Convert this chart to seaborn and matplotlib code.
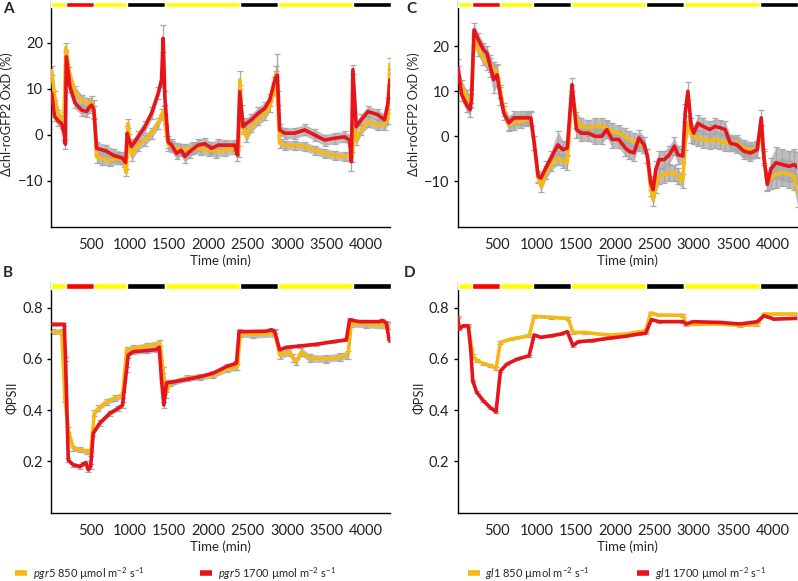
import numpy as np
import pandas as pd
import matplotlib
matplotlib.use("Agg")
import matplotlib.pyplot as plt
import matplotlib.transforms as mtransforms
from matplotlib.lines import Line2D
import seaborn as sns

# light regime bar along the top of every panel (start, end, colour)
light_start = [0, 180, 540, 960, 1440, 2400, 2880, 3840]
light_end = [180, 540, 960, 1440, 2400, 2880, 3840, 4320]
light_col = ['#ffff00', '#ff0000', '#ffff00', '#000000', '#ffff00', '#000000', '#ffff00', '#000000']

# ---- panel A: pgr5, chl-roGFP2 OxD ----
a_t_850 = [5, 40, 90, 130, 160, 185, 230, 300, 385, 465, 515, 545, 575, 650, 750, 850, 930, 955,
           975, 1000, 1020, 1105, 1190, 1275, 1360, 1402, 1430, 1460, 1490, 1530, 1600, 1700, 1800,
           1900, 2000, 2100, 2207, 2334, 2385, 2400, 2420, 2440, 2483, 2546, 2631, 2716, 2779, 2834,
           2856, 2880, 2906, 2970, 3097, 3224, 3351, 3478, 3605, 3732, 3800, 3830, 3850, 3881, 3945,
           4029, 4156, 4241, 4283, 4310]
a_v_850 = [14, 8.5, 4.5, 3.3, 4, 19, 13.5, 9.4, 7.6, 6.8, 7.2, 5, -4.7, -5.2, -5.5, -5, -5.6, -8.2,
           2.5, -2, -4.4, -2.2, -1.1, 0.4, 2.6, 4.4, 5.2, 1, -2.2, -2.5, -3, -3.2, -2.8,
           -3, -3.2, -3.6, -3.3, -3, -3.5, 12, 5, 1.5, -0.4, 1.8, 3.3, 4.4, 6.2, 10,
           13.4, 8, -1.8, -2.2, -2.3, -2.5, -3.3, -4, -4.4, -4.7, -4.6, -4.8, 1.5, -1.2, 1.1,
           2.9, 2.2, 2.2, 3.5, 15.5]
a_e_850 = [1, 1, 1, 1, 1, 1, 1.2, 1.2, 1.2, 1.2, 1.2, 1.2, 1.4, 1.4, 1.3, 1.3, 1.3, 0.8,
           1, 1.2, 1.2, 1.2, 1.2, 1.2, 1.2, 1.2, 1.2, 1.2, 1.2, 1.3, 1.3, 1.3, 1.3,
           1.3, 1.3, 1.3, 1.2, 1.2, 1.2, 2, 1.5, 1.2, 1.2, 1.2, 1.2, 1.2, 1.2, 1.2,
           1.5, 1.5, 1, 1, 1, 1, 1, 1, 1, 1, 1, 1, 1, 1, 1,
           1.2, 1.2, 1.2, 1.2, 1.2]

a_t_1700 = [5, 40, 90, 130, 165, 178, 190, 236, 300, 385, 448, 480, 512, 540, 576, 700, 800, 900, 945,
            965, 985, 1020, 1105, 1190, 1275, 1360, 1402, 1423, 1445, 1487, 1530, 1593, 1652, 1700,
            1760, 1868, 1953, 2038, 2122, 2207, 2334, 2368, 2398, 2440, 2483, 2546, 2631, 2716, 2779,
            2834, 2856, 2877, 2906, 2970, 3097, 3224, 3351, 3478, 3605, 3732, 3796, 3818, 3838, 3881,
            3945, 4029, 4156, 4241, 4283, 4310]
a_v_1700 = [9, 4, 3, 2.5, 0, -2, 17, 10.5, 7, 5.4, 5.1, 6, 6.5, 5.5, -2.9, -3.5, -4.5, -5, -6,
            0.4, -1, -2.5, -0.4, 1.8, 4.7, 9.1, 12, 21, 8, -1.5, -2.2, -4, -3.3, -4.7,
            -3.6, -2.2, -1.9, -2.9, -2.2, -2.2, -2.2, -4.4, 9.4, 1.8, 2.5, 3.3, 4.7, 5.8, 7.6,
            11.3, 12.5, 13, 1.1, 0.4, 0.4, 1.1, 0, -1.1, -0.7, -0.4, -1.1, -5.8, 14.2, 1.8,
            3.3, 5.1, 4.4, 3.3, 6.9, 12]
a_e_1700 = [1, 1, 1, 1, 1, 1, 1.5, 1.2, 1.2, 1.2, 1.2, 1.2, 1.2, 2, 1.4, 1.4, 1.4, 1.3, 1.3,
            1.5, 1.3, 1.3, 1.3, 1.3, 1.3, 1.3, 1.5, 3, 1.5, 1.3, 1.3, 1.3, 1.3, 1.3,
            1.3, 1.3, 1.3, 1.3, 1.3, 1.2, 1.2, 1.2, 1.5, 1.2, 1.2, 1.3, 1.3, 1.3, 1.3,
            1.3, 1.5, 4.5, 1.2, 1.2, 1.2, 1.2, 1.2, 1.2, 1.2, 1.2, 1.2, 2, 1, 1.2,
            1.2, 1.2, 1.2, 1.2, 1.2, 1.2]

# ---- panel B: pgr5, PhiPSII ----
b_t_850 = [20, 131, 173, 215, 279, 364, 449, 500, 546, 597, 703, 809, 906, 957, 1041, 1211, 1381,
           1423, 1453, 1508, 1720, 1889, 2059, 2229, 2368, 2406, 2567, 2843, 2906, 3033, 3076, 3118,
           3182, 3288, 3500, 3669, 3775, 3818, 4008, 4283, 4310]
b_v_850 = [0.706, 0.706, 0.44, 0.323, 0.251, 0.245, 0.24, 0.232, 0.388, 0.407, 0.433, 0.446, 0.459,
           0.635, 0.641, 0.65, 0.661, 0.557, 0.459, 0.505, 0.524, 0.53, 0.537, 0.56, 0.567, 0.70,
           0.696, 0.70, 0.615, 0.628, 0.602, 0.59, 0.628, 0.602, 0.6, 0.608, 0.615, 0.739, 0.736,
           0.73, 0.73]
b_e_850 = [0.01, 0.01, 0.01, 0.01, 0.01, 0.01, 0.01, 0.01, 0.012, 0.012, 0.012, 0.012, 0.012,
           0.012, 0.012, 0.012, 0.012, 0.012, 0.012, 0.012, 0.012, 0.012, 0.012, 0.012, 0.012,
           0.015, 0.015, 0.015, 0.015, 0.015, 0.015, 0.015, 0.015, 0.015, 0.015, 0.015, 0.015,
           0.015, 0.015, 0.015, 0.015]

b_t_1700 = [20, 67, 164, 180, 215, 279, 364, 406, 440, 470, 500, 533, 618, 745, 851, 906, 957, 978,
            1041, 1211, 1339, 1372, 1402, 1431, 1466, 1550, 1720, 1889, 2059, 2229, 2356, 2389,
            2440, 2737, 2800, 2843, 2906, 2991, 3161, 3373, 3584, 3754, 3796, 3923, 4178, 4212,
            4263, 4296, 4310]
b_v_1700 = [0.735, 0.735, 0.735, 0.6, 0.205, 0.186, 0.18, 0.19, 0.195, 0.167, 0.18, 0.31, 0.35,
            0.388, 0.407, 0.42, 0.557, 0.615, 0.628, 0.632, 0.636, 0.645, 0.518, 0.42, 0.506,
            0.51, 0.52, 0.53, 0.544, 0.57, 0.583, 0.706, 0.706, 0.708, 0.713, 0.706, 0.635,
            0.645, 0.65, 0.657, 0.667, 0.674, 0.752, 0.745, 0.745, 0.75, 0.74, 0.68, 0.67]
b_e_1700 = [0.005, 0.005, 0.005, 0.008, 0.008, 0.008, 0.008, 0.008, 0.008, 0.008, 0.008, 0.01,
            0.01, 0.01, 0.01, 0.01, 0.01, 0.01, 0.01, 0.01, 0.01, 0.01, 0.01, 0.01, 0.01, 0.008,
            0.008, 0.008, 0.008, 0.008, 0.008, 0.006, 0.006, 0.006, 0.006, 0.006, 0.006, 0.006,
            0.006, 0.006, 0.006, 0.006, 0.006, 0.006, 0.006, 0.006, 0.006, 0.006, 0.006]

# ---- panel C: gl1, chl-roGFP2 OxD ----
c_t = [5, 49, 113, 156, 175, 207, 263, 327, 371, 413, 456, 500, 543, 585, 650, 714, 800, 887, 929,
       972, 1023, 1058, 1122, 1187, 1273, 1338, 1393, 1453, 1509, 1573, 1660, 1745, 1831, 1896,
       1960, 2046, 2131, 2175, 2240, 2304, 2369, 2411, 2454, 2484, 2518, 2562, 2626, 2691, 2755,
       2798, 2862, 2892, 2926, 2969, 3000, 3055, 3120, 3206, 3270, 3335, 3400, 3464, 3550, 3636,
       3722, 3807, 3859, 3893, 3936, 3979, 4044, 4129, 4216, 4280, 4322]
c_v_850 = [14.1, 11.1, 8.9, 7.8, 9, 21.5, 19.3, 17.4, 16.3, 15.9, 15, 14.4, 10, 6, 2.6, 3, 3.3, 3.9,
           3.9, -1.5, -9.3, -11.1, -8.1, -6.3, -4.8, -5.5, -5.9, 10, 3.7, 2.2, 1.9, 2.2, 2.2, 1.9,
           1.1, 0.7, 0, -0.7, -1.1, -1.5, -1.9, -4.4, -11.9, -14.1, -11.1, -8.9, -8.5, -8.1, -8.1,
           -8.9, -10, -1.5, 3, 0.4, 0, -0.4, -0.7, -1.1, -0.7, -1.1, -1.5, -1.5, -1.5, -2.6,
           -3, -2.8, 1.1, -4.4, -10.4, -9.3, -8.5, -8.1, -8.5, -8.9, -12.6]
c_e_850 = [1.5, 1.5, 1.5, 1.5, 1.5, 1.5, 1.5, 1.5, 1.5, 1.5, 1.5, 1.5, 1.5, 1.5, 1.5, 1.5, 1.5, 1.5,
           1.5, 1.5, 1.2, 1.2, 1.5, 1.5, 1.5, 1.5, 1.5, 1.5, 1.8, 1.8, 1.8, 1.8, 1.8, 1.8,
           1.8, 1.8, 1.8, 1.8, 1.8, 1.8, 1.8, 1.5, 1.5, 1.5, 1.5, 1.8, 1.8, 1.8, 1.8,
           1.8, 1.5, 1.5, 1.5, 1.8, 1.8, 1.8, 1.8, 1.8, 1.8, 1.8, 1.8, 1.8, 1.8, 1.8,
           1.8, 1.8, 1.5, 1.5, 1.5, 2.5, 3, 3, 3, 3, 3.2]
c_v_1700 = [15.2, 9.3, 7, 5.9, 8, 23.7, 21.5, 19.3, 18.5, 15.6, 12.6, 13.7, 8.9, 5.2, 3, 4.1, 4.1,
            4.1, 4.1, -1.5, -8.9, -9.3, -7, -4.8, -1.9, -3, -2.6, 11.5, 1.5, 0.7, 0.7, 0, 0, 1.5,
            -0.7, -0.7, -2.6, -3.3, -3.7, -0.4, -1.9, -4.4, -10.4, -11.9, -7.4, -5.2, -5.2, -4.1,
            -2.2, -4.1, -4.4, 5.2, 10, 2.2, 0.7, 2.9, 2.2, 1.5, 2.2, 1.9, 1.5, -1.5, -1.9, -3.3,
            -3.7, -3, 4.1, -4.8, -10.7, -7.4, -5.9, -6.3, -6.7, -6.3, -7]
c_e_1700 = [2, 1.5, 1.5, 1.5, 1.5, 1.5, 1.5, 1.5, 1.5, 2.5, 3, 2.5, 2, 1.5, 1.5, 1.5, 1.5, 1.5,
            1.5, 1.5, 1.2, 1.2, 1.5, 1.5, 3, 2, 1.5, 1.5, 1.8, 1.8, 1.8, 1.8, 1.8, 1.8,
            1.8, 1.8, 1.8, 1.8, 1.8, 1.8, 1.8, 1.5, 1.5, 1.5, 2, 2, 2, 2, 2,
            2, 1.5, 2, 2, 1.8, 1.8, 1.8, 1.8, 1.8, 1.8, 1.8, 1.8, 1.8, 1.8, 1.8,
            1.8, 1.8, 1.8, 1.5, 1.5, 2.5, 3.5, 3.5, 3.5, 3.5, 3.5]

# ---- panel D: gl1, PhiPSII ----
d_t_850 = [0, 18, 70, 134, 191, 242, 327, 414, 487, 543, 671, 907, 972, 1187, 1402, 1466, 1616, 1917,
           2131, 2389, 2454, 2562, 2862, 2905, 3335, 3593, 3807, 3893, 4310]
d_v_850 = [0.762, 0.716, 0.729, 0.73, 0.612, 0.593, 0.582, 0.573, 0.563, 0.664, 0.677, 0.69, 0.766,
           0.762, 0.758, 0.703, 0.703, 0.693, 0.697, 0.71, 0.779, 0.771, 0.77, 0.734, 0.736, 0.73,
           0.734, 0.775, 0.775]
d_e_850 = [0.004] * 3 + [0.005] * 26

d_t_1700 = [0, 18, 70, 134, 165, 191, 242, 327, 414, 487, 543, 628, 757, 907, 972, 1058, 1187, 1316,
            1393, 1466, 1531, 1702, 1917, 2131, 2304, 2389, 2463, 2562, 2862, 2905, 2990, 3335,
            3593, 3807, 3893, 4022, 4310]
d_v_1700 = [0.762, 0.716, 0.729, 0.728, 0.638, 0.514, 0.469, 0.436, 0.41, 0.393, 0.553, 0.58, 0.599,
            0.612, 0.693, 0.684, 0.69, 0.697, 0.706, 0.651, 0.667, 0.671, 0.68, 0.688, 0.697, 0.7,
            0.753, 0.745, 0.745, 0.736, 0.745, 0.742, 0.736, 0.745, 0.768, 0.755, 0.758]
d_e_1700 = [0.004] * 37

col_850 = '#f6b913'
col_1700 = '#e8141c'
col_err = '#a8a8a8'

sns.set_style("ticks")
plt.rcParams['font.family'] = ['Lato', 'DejaVu Sans']
plt.rcParams['mathtext.fontset'] = 'custom'
plt.rcParams['mathtext.rm'] = 'Lato'
plt.rcParams['mathtext.it'] = 'Lato:italic'

fig = plt.figure(figsize=(7.98, 5.81), dpi=100)
ax_a = fig.add_axes([0.0644, 0.6093, 0.4243, 0.3880])
ax_c = fig.add_axes([0.5736, 0.6093, 0.4248, 0.3880])
ax_b = fig.add_axes([0.0644, 0.1176, 0.4243, 0.3945])
ax_d = fig.add_axes([0.5736, 0.1176, 0.4248, 0.3945])


def draw_series(ax, t, v, e, color):
    lo = np.array(v) - np.array(e)
    hi = np.array(v) + np.array(e)
    # the dense error bars of the original read as a grey envelope
    ax.fill_between(t, lo, hi, color=col_err, alpha=0.75, lw=0, zorder=1)
    ax.errorbar(t, v, yerr=e, fmt='none', ecolor=col_err, elinewidth=0.9,
                capsize=2, capthick=0.9, zorder=1)
    df = pd.DataFrame({'t': t, 'v': v})
    sns.lineplot(data=df, x='t', y='v', color=color, lw=2.6, ax=ax, zorder=3)


def style_axes(ax, ylim, yticks, ylabel):
    ax.set_xlim(0, 4310)
    ax.set_ylim(*ylim)
    ax.set_xticks([500, 1000, 1500, 2000, 2500, 3000, 3500, 4000])
    ax.set_yticks(yticks)
    ax.tick_params(axis='x', length=0, pad=8, labelsize=10.5, colors='#222222')
    ax.tick_params(axis='y', length=3, width=1, pad=3, labelsize=10.5, colors='#222222')
    ax.tick_params(axis='y', color='black')
    sns.despine(ax=ax)
    for s in ['left', 'bottom']:
        ax.spines[s].set_color('black')
        ax.spines[s].set_linewidth(1.0)
    ax.set_xlabel('Time (min)', fontsize=9.5, labelpad=2)
    ax.set_ylabel(ylabel, fontsize=9.3, labelpad=3)
    trans = mtransforms.blended_transform_factory(ax.transData, ax.transAxes)
    for s, e, c in zip(light_start, light_end, light_col):
        ax.broken_barh([(s, e - s)], (0.976, 0.024), facecolors=c, transform=trans,
                       zorder=5, clip_on=False)


draw_series(ax_a, a_t_850, a_v_850, a_e_850, col_850)
draw_series(ax_a, a_t_1700, a_v_1700, a_e_1700, col_1700)
style_axes(ax_a, (-20, 29), [-10, 0, 10, 20], '\u0394chl-roGFP2 OxD (%)')

draw_series(ax_c, c_t, c_v_850, c_e_850, col_850)
draw_series(ax_c, c_t, c_v_1700, c_e_1700, col_1700)
style_axes(ax_c, (-20.2, 30), [-10, 0, 10, 20], '\u0394chl-roGFP2 OxD (%)')

draw_series(ax_b, b_t_850, b_v_850, b_e_850, col_850)
draw_series(ax_b, b_t_1700, b_v_1700, b_e_1700, col_1700)
style_axes(ax_b, (0, 0.894), [0.2, 0.4, 0.6, 0.8], '\u03a6PSII')

draw_series(ax_d, d_t_850, d_v_850, d_e_850, col_850)
draw_series(ax_d, d_t_1700, d_v_1700, d_e_1700, col_1700)
style_axes(ax_d, (0, 0.894), [0.2, 0.4, 0.6, 0.8], '\u03a6PSII')

for lab, x, y in [('A', 0.004, 0.997), ('C', 0.509, 0.997), ('B', 0.004, 0.542), ('D', 0.506, 0.542)]:
    fig.text(x, y, lab, fontsize=11, fontweight='bold', va='top', ha='left')

unit = ' 850 \u00b5mol m$^{-2}$ s$^{-1}$'
unit2 = ' 1700 \u00b5mol m$^{-2}$ s$^{-1}$'
for name, x0, gap in [('pgr5', 0.019, 5.0), ('gl1', 0.586, 4.2)]:
    handles = [Line2D([], [], color=col_850, lw=4, solid_capstyle='butt'),
               Line2D([], [], color=col_1700, lw=4, solid_capstyle='butt')]
    labels = [r'$\it{' + name + '}$' + unit, r'$\it{' + name + '}$' + unit2]
    fig.legend(handles, labels, loc='center left', bbox_to_anchor=(x0, 0.013), ncol=2,
               frameon=False, fontsize=8, handlelength=1.1, handletextpad=0.5,
               columnspacing=gap, borderaxespad=0, borderpad=0)

fig.savefig('out.png', dpi=100)
